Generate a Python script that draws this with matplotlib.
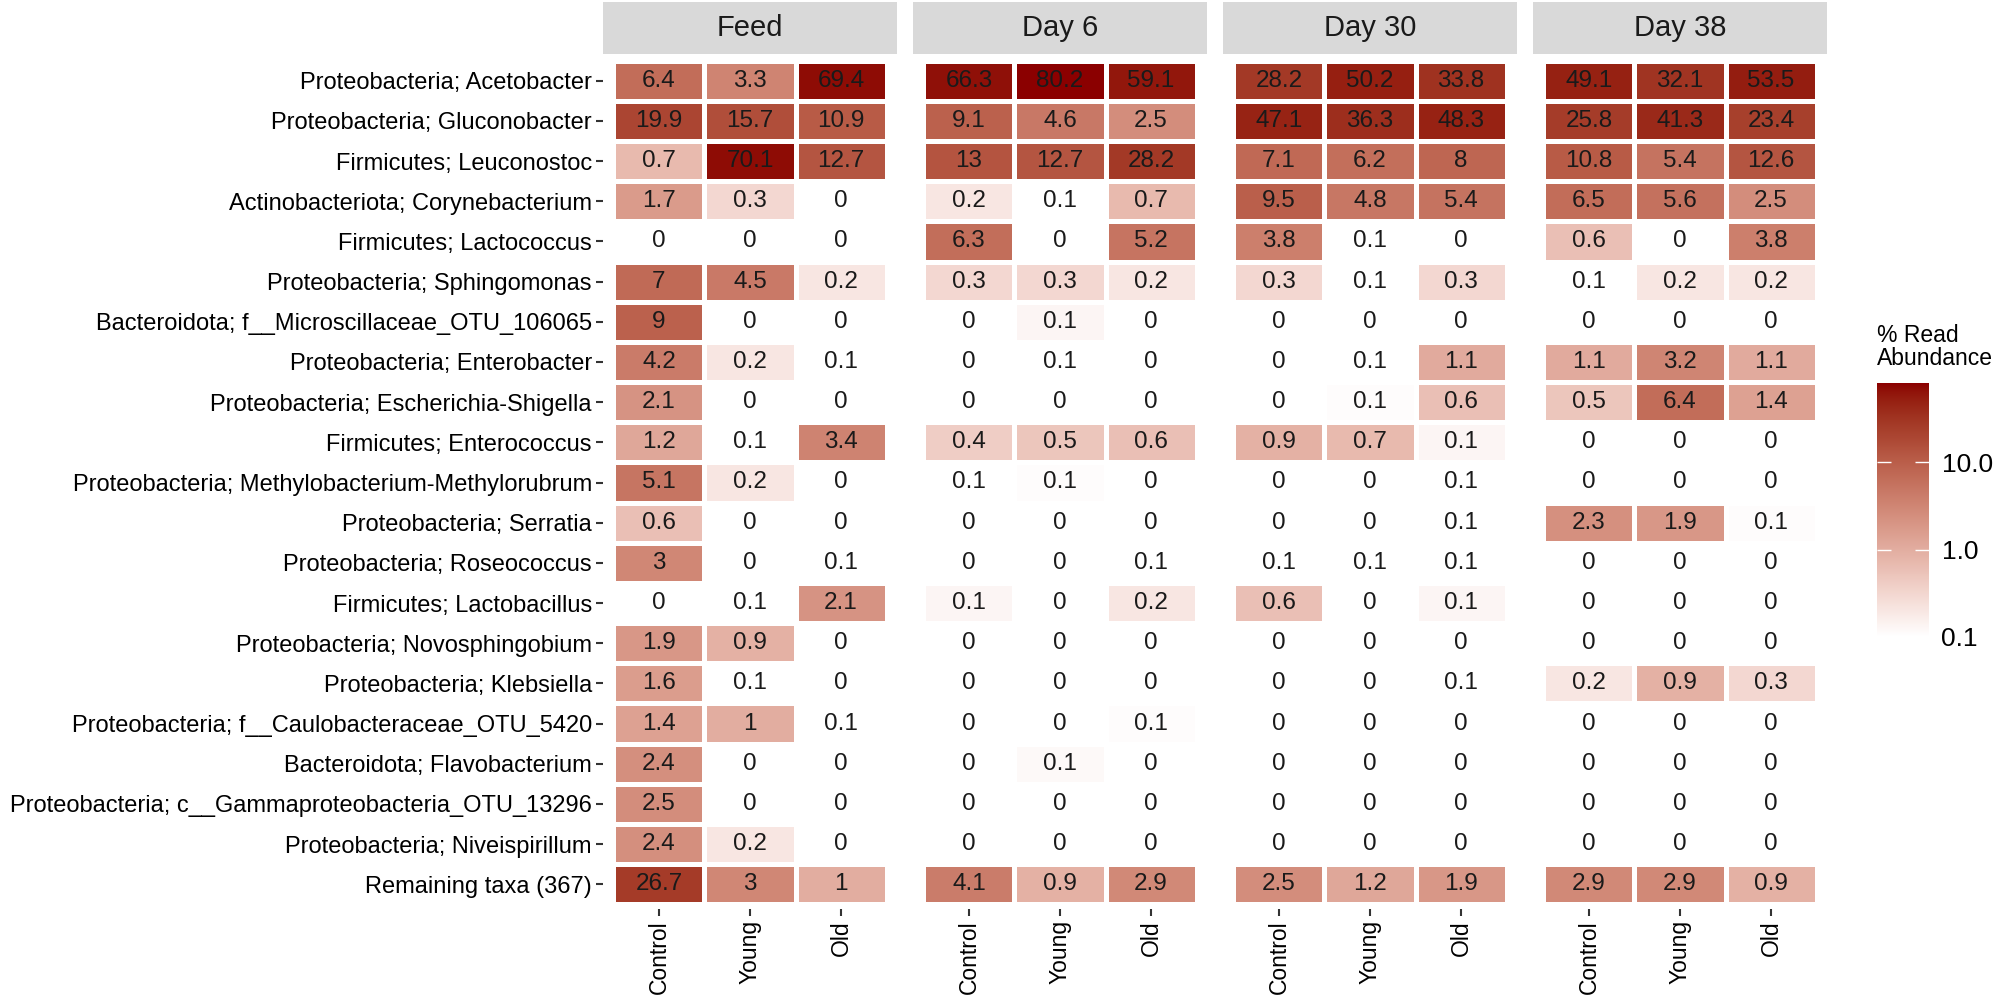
import numpy as np
import matplotlib
matplotlib.use("Agg")
import matplotlib.pyplot as plt
from matplotlib.colors import LogNorm, ListedColormap
import matplotlib.cm as cm

plt.rcParams['font.family'] = ['Liberation Sans', 'DejaVu Sans']

taxa = [
    "Proteobacteria; Acetobacter",
    "Proteobacteria; Gluconobacter",
    "Firmicutes; Leuconostoc",
    "Actinobacteriota; Corynebacterium",
    "Firmicutes; Lactococcus",
    "Proteobacteria; Sphingomonas",
    "Bacteroidota; f__Microscillaceae_OTU_106065",
    "Proteobacteria; Enterobacter",
    "Proteobacteria; Escherichia-Shigella",
    "Firmicutes; Enterococcus",
    "Proteobacteria; Methylobacterium-Methylorubrum",
    "Proteobacteria; Serratia",
    "Proteobacteria; Roseococcus",
    "Firmicutes; Lactobacillus",
    "Proteobacteria; Novosphingobium",
    "Proteobacteria; Klebsiella",
    "Proteobacteria; f__Caulobacteraceae_OTU_5420",
    "Bacteroidota; Flavobacterium",
    "Proteobacteria; c__Gammaproteobacteria_OTU_13296",
    "Proteobacteria; Niveispirillum",
    "Remaining taxa (367)",
]
groups = ["Control", "Young", "Old"]
days = ["Feed", "Day 6", "Day 30", "Day 38"]

# % read abundance (Control, Young, Old); values just under 0.1 show as "0.1" but are unfilled
feed = [
    [6.4, 3.3, 69.4], [19.9, 15.7, 10.9], [0.7, 70.1, 12.7], [1.7, 0.3, 0],
    [0, 0, 0], [7, 4.5, 0.2], [9, 0, 0], [4.2, 0.2, 0.08], [2.1, 0, 0],
    [1.2, 0.08, 3.4], [5.1, 0.2, 0], [0.6, 0, 0], [3, 0, 0.08], [0, 0.08, 2.1],
    [1.9, 0.9, 0], [1.6, 0.08, 0], [1.4, 1, 0.08], [2.4, 0, 0], [2.5, 0, 0],
    [2.4, 0.2, 0], [26.7, 3, 1],
]
day6 = [
    [66.3, 80.2, 59.1], [9.1, 4.6, 2.5], [13, 12.7, 28.2], [0.2, 0.08, 0.7],
    [6.3, 0, 5.2], [0.3, 0.3, 0.2], [0, 0.13, 0], [0, 0.08, 0], [0, 0, 0],
    [0.4, 0.5, 0.6], [0.08, 0.11, 0], [0, 0, 0], [0, 0, 0.08], [0.13, 0, 0.2],
    [0, 0, 0], [0, 0, 0], [0, 0, 0.11], [0, 0.12, 0], [0, 0, 0],
    [0, 0, 0], [4.1, 0.9, 2.9],
]
day30 = [
    [28.2, 50.2, 33.8], [47.1, 36.3, 48.3], [7.1, 6.2, 8], [9.5, 4.8, 5.4],
    [3.8, 0.08, 0], [0.3, 0.08, 0.3], [0, 0, 0], [0, 0.08, 1.1], [0, 0.11, 0.6],
    [0.9, 0.7, 0.13], [0, 0, 0.08], [0, 0, 0.08], [0.08, 0.08, 0.08], [0.6, 0, 0.13],
    [0, 0, 0], [0, 0, 0.08], [0, 0, 0], [0, 0, 0], [0, 0, 0],
    [0, 0, 0], [2.5, 1.2, 1.9],
]
day38 = [
    [49.1, 32.1, 53.5], [25.8, 41.3, 23.4], [10.8, 5.4, 12.6], [6.5, 5.6, 2.5],
    [0.6, 0, 3.8], [0.08, 0.2, 0.2], [0, 0, 0], [1.1, 3.2, 1.1], [0.5, 6.4, 1.4],
    [0, 0, 0], [0, 0, 0], [2.3, 1.9, 0.11], [0, 0, 0], [0, 0, 0],
    [0, 0, 0], [0.2, 0.9, 0.3], [0, 0, 0], [0, 0, 0], [0, 0, 0],
    [0, 0, 0], [2.9, 2.9, 0.9],
]
panels = [feed, day6, day30, day38]


# white -> darkred ramp in CIELAB, like ggplot's scale_fill_gradient
def srgb_to_lab(rgb):
    c = np.asarray(rgb, float)
    lin = np.where(c <= 0.04045, c / 12.92, ((c + 0.055) / 1.055) ** 2.4)
    M = np.array([[0.4124, 0.3576, 0.1805], [0.2126, 0.7152, 0.0722], [0.0193, 0.1192, 0.9505]])
    xyz = M @ lin / np.array([0.95047, 1.0, 1.08883])
    f = np.where(xyz > (6 / 29) ** 3, np.cbrt(xyz), xyz / (3 * (6 / 29) ** 2) + 4 / 29)
    return np.array([116 * f[1] - 16, 500 * (f[0] - f[1]), 200 * (f[1] - f[2])])


def lab_to_srgb(lab):
    L, a, b = lab
    fy = (L + 16) / 116
    f = np.array([fy + a / 500, fy, fy - b / 200])
    xyz = np.where(f > 6 / 29, f ** 3, 3 * (6 / 29) ** 2 * (f - 4 / 29))
    xyz = xyz * np.array([0.95047, 1.0, 1.08883])
    Mi = np.array([[3.2406, -1.5372, -0.4986], [-0.9689, 1.8758, 0.0415], [0.0557, -0.2040, 1.0570]])
    lin = Mi @ xyz
    c = np.where(lin <= 0.0031308, 12.92 * lin, 1.055 * np.clip(lin, 0, None) ** (1 / 2.4) - 0.055)
    return np.clip(c, 0, 1)


lo = srgb_to_lab([1, 1, 1])
hi = srgb_to_lab([0x8B / 255, 0, 0])
ramp = [lab_to_srgb(lo + (hi - lo) * t) for t in np.linspace(0, 1, 256)]
cmap = ListedColormap(ramp)
norm = LogNorm(vmin=0.1, vmax=80.2)

W, H = 1998, 1002
fig = plt.figure(figsize=(W / 100, H / 100), dpi=100)


def px(x0, y0, x1, y1):
    return [x0 / W, 1 - y1 / H, (x1 - x0) / W, (y1 - y0) / H]


lefts = [603, 913, 1223, 1533]
pw = 294
ptop, pbot = 56, 909
nrow = len(taxa)

for k, (day, vals) in enumerate(zip(days, panels)):
    v = np.array(vals, float)
    ax = fig.add_axes(px(lefts[k], ptop, lefts[k] + pw, pbot))
    data = np.ma.masked_less(v, 0.1)
    ax.pcolormesh(np.arange(4) - 0.5, np.arange(nrow + 1) - 0.5, data, cmap=cmap, norm=norm,
                  edgecolors='white', linewidth=2.4)
    for i in range(nrow):
        for j in range(3):
            ax.text(j, i, "%g" % round(v[i, j], 1), ha='center', va='center',
                    fontsize=17.5, color='#1a1a1a')
    ax.set_xlim(-0.615, 2.615)
    ax.set_ylim(nrow - 0.385, -0.615)
    for s in ax.spines.values():
        s.set_visible(False)
    ax.set_xticks(range(3))
    ax.set_xticklabels(groups, rotation=90, fontsize=16.5, color='black')
    if k == 0:
        ax.set_yticks(range(nrow))
        ax.set_yticklabels(taxa, fontsize=17, color='black')
    else:
        ax.set_yticks([])
    ax.tick_params(length=5, width=1.5, color='#333333', pad=3)

    sx = fig.add_axes(px(lefts[k], 2, lefts[k] + pw, 54))
    sx.set_facecolor('#d9d9d9')
    sx.set_xticks([])
    sx.set_yticks([])
    for s in sx.spines.values():
        s.set_visible(False)
    sx.text(0.5, 0.5, day, ha='center', va='center', fontsize=21, color='#1a1a1a',
            transform=sx.transAxes)

cax = fig.add_axes(px(1877, 383, 1929, 637))
cb = fig.colorbar(cm.ScalarMappable(norm=norm, cmap=cmap), cax=cax)
cb.outline.set_visible(False)
cax.minorticks_off()
cb.set_ticks([0.1, 1, 10])
cb.set_ticklabels(["0.1", "1.0", "10.0"])
cax.tick_params(direction='in', length=10, width=1, color='white', left=True, right=True,
                labelsize=19, pad=9)
fig.text(1877 / W, 1 - 324 / H, "% Read\nAbundance", ha='left', va='top', fontsize=16.5,
         linespacing=1.0, color='black')

fig.savefig("out.png", dpi=100)
